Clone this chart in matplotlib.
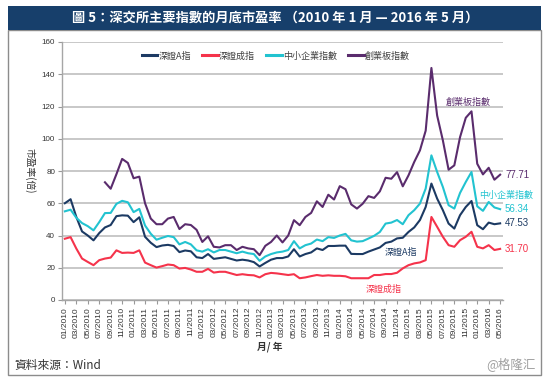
import matplotlib
matplotlib.use("Agg")
import matplotlib.pyplot as plt
from matplotlib.patches import Rectangle
import numpy as np

plt.rcParams['font.family'] = ['Noto Sans CJK TC', 'DejaVu Sans']
NUMFONT = ['Liberation Sans', 'DejaVu Sans']

W, H = 550, 379

# ---------------- data ----------------
months = [f"{m:02d}/{y}" for y in range(2010, 2017) for m in range(1, 13)][:77]

szse_a = [60, 62.5, 51.5, 42.5, 40, 37, 41.5, 45, 46.5, 52, 52.5, 52.3, 48.3, 51.3,
          39.2, 35.5, 32.8, 33.8, 34.2, 33.5, 29.7, 30.7, 30.2, 26.5, 26, 28.5, 25.5,
          26, 26.5, 25.5, 24.5, 25, 24.5, 23.5, 20.8, 23, 25, 26, 26, 27, 31.5, 27,
          28.5, 29.5, 32, 31, 33.5, 33.5, 33.7, 33.7, 28.6, 28.5, 28.5, 30, 31.3, 32.6,
          35.4, 36.2, 38.2, 38.6, 42.2, 45, 49.6, 57.7, 72.2, 62.9, 55.7, 47.4, 44.3,
          52.6, 57.7, 61.4, 46.4, 43.9, 48, 47, 47.53]

szse_comp = [38, 39, 31.9, 25.7, 23.6, 21.6, 24.7, 25.7, 26.3, 30.8, 29.2, 29.4, 29.2,
             30.8, 23.2, 21.6, 20.1, 21, 22, 21.6, 19.5, 19.9, 18.9, 17.5, 17.5, 19.3,
             17, 17.5, 17.5, 16.5, 15.5, 16, 15.5, 15.3, 14, 16, 16.8, 16.5, 16, 15.5,
             16, 13.5, 14, 14.8, 15.5, 15, 15.3, 15, 15, 14.7, 13.5, 13.5, 13.5, 13.5,
             15.5, 15.5, 16.1, 16.1, 16.9, 19.6, 21.6, 22.7, 23.3, 24.7, 51.5, 45.4,
             39.2, 34, 33, 37.1, 39.2, 42.3, 33, 32, 34, 31, 31.7]

sme = [55, 56, 51, 47.7, 45.8, 43.2, 48.3, 53.9, 54, 59.6, 61.5, 60.6, 54.5, 56.5,
       46.2, 41.1, 37.4, 38.6, 39.7, 39, 34.5, 36, 34.5, 30.8, 30, 31.5, 29.5, 31, 31,
       30, 29, 30, 29, 28.5, 24.3, 27, 28.5, 29.5, 30, 31, 36.5, 32, 34, 35, 37.5,
       36.5, 39, 38.5, 40, 41, 37, 36.2, 36.5, 38.1, 39.8, 42.2, 47.4, 48, 49.6, 47,
       52.6, 55.7, 59.8, 69.1, 89.7, 79.4, 70.1, 58.8, 56.7, 66.4, 73.2, 79.4, 58.1,
       55.3, 60.8, 57.4, 56.34]

chinext = [None] * 7 + [73, 69, 78, 87.5, 85, 75.5, 76.5, 60, 50.5, 47, 47, 50.5, 51.5,
                        44, 47, 46.5, 43.5, 36, 39.5, 33, 32.6, 34, 34, 31, 33, 32, 31.5,
                        27.8, 33.6, 36, 40, 35.7, 40, 49.5, 46.4, 51.5, 54, 61.2, 57.7,
                        65.3, 62.3, 70.6, 68.7, 59.3, 56.7, 59.7, 64.4, 63.3, 67.4, 75.8,
                        75.2, 79.3, 70.5, 77.3, 85.6, 92.8, 105, 143.9, 114.4, 99, 80.8,
                        83.5, 101, 113, 117, 84.5, 77.9, 82, 74.6, 77.71]

series_names = ["深證A指", "深證成指", "中小企業指數", "創業板指數"]
colors = ["#1C3A63", "#F5334B", "#22C3D0", "#5A2C6D"]
yticks = list(range(0, 161, 20))

# ---------------- figure ----------------
fig = plt.figure(figsize=(W / 100, H / 100), dpi=100)


def fx(px):
    return px / W


def fy(py):
    return 1 - py / H


# panel border and title band
fig.patches.append(Rectangle((fx(8), fy(375)), fx(541) - fx(8), fy(30) - fy(375),
                             transform=fig.transFigure, fill=False,
                             edgecolor="#8C8C8C", lw=1.0, zorder=0))
fig.patches.append(Rectangle((fx(8), fy(30)), fx(541) - fx(8), fy(6) - fy(30),
                             transform=fig.transFigure, facecolor="#173F6B",
                             edgecolor="none", zorder=1))
fig.text(fx(275), fy(18), "圖 5：深交所主要指數的月底市盈率 （2010 年 1 月 — 2016 年 5 月）",
         color="white", fontsize=9.5, fontweight="bold", ha="center", va="center")

ax = fig.add_axes([fx(62), fy(300), fx(503) - fx(62), fy(42) - fy(300)])
x = np.arange(len(months))

series = [szse_a, szse_comp, sme, chinext]
for vals, c, name in zip(series, colors, series_names):
    v = np.array([np.nan if a is None else a for a in vals], dtype=float)
    ax.plot(x, v, color=c, lw=1.5, label=name, zorder=3)

ax.set_xlim(-0.5, len(months) - 0.5)
ax.set_ylim(0, 160)
ax.set_yticks(yticks)
ax.set_yticklabels([str(t) for t in yticks], fontsize=5.8, color="#333333", family=NUMFONT)
ax.grid(axis="y", color="#BFBFBF", lw=1.2, zorder=0)
ax.set_axisbelow(True)
ax.set_xticks(x[::2])
ax.set_xticklabels(months[::2], rotation=90, fontsize=6, color="#333333", family=NUMFONT)
ax.tick_params(axis="both", length=3, color="#999999", width=0.8, pad=2)
for s in ["top", "right"]:
    ax.spines[s].set_visible(False)
for s in ["left", "bottom"]:
    ax.spines[s].set_color("#A6A6A6")
    ax.spines[s].set_linewidth(1.0)

# legend
leg = fig.legend(loc="center", bbox_to_anchor=(fx(276), fy(56)), ncol=4, frameon=False,
                 fontsize=6.5, handlelength=1.7, handletextpad=0.15, columnspacing=1.25,
                 labelcolor="#404040")
for line in leg.get_lines():
    line.set_linewidth(2.2)

# annotations
fig.text(fx(468), fy(102), "創業板指數", color=colors[3], fontsize=6.5, ha="center", va="center")
fig.text(fx(506), fy(195), "中小企業指數", color=colors[2], fontsize=6.5, ha="center", va="center")
fig.text(fx(401), fy(252), "深證A指", color=colors[0], fontsize=6.5, ha="center", va="center")
fig.text(fx(384), fy(289), "深證成指", color=colors[1], fontsize=6.5, ha="center", va="center")

end_vals = [szse_a[-1], szse_comp[-1], sme[-1], chinext[-1]]
end_y = [223, 249, 209, 175]
for v, c, yy in zip(end_vals, colors, end_y):
    fig.text(fx(505), fy(yy), f"{v:.2f}", color=c, fontsize=7, ha="left", va="center",
             family=NUMFONT)

fig.text(fx(30), fy(171), "市盈率(倍)", rotation=270, fontsize=7, color="#333333",
         ha="center", va="center")
fig.text(fx(270), fy(347), "月/ 年", fontsize=7, fontweight="bold", color="#333333",
         ha="center", va="center")
fig.text(fx(14), fy(365), "資料來源：Wind", fontsize=8.5, color="#333333",
         ha="left", va="center")
fig.text(fx(536), fy(364), "@格隆汇", fontsize=9, color="#A0A0A0",
         ha="right", va="center")

fig.savefig("out.png", dpi=100, facecolor="white")
